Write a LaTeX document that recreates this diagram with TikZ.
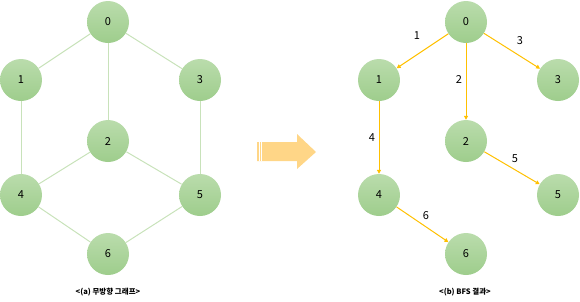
\documentclass[tikz,border=0pt]{standalone}
\usepackage{fontspec}
\setmainfont{Noto Sans CJK KR}
\usepackage{tikz}
\usetikzlibrary{arrows.meta}
\definecolor{vtxtop}{RGB}{186,220,172}
\definecolor{vtxbot}{RGB}{158,205,140}
\definecolor{edgegreen}{RGB}{200,226,186}
\definecolor{treeedge}{RGB}{255,192,0}
\definecolor{bigarrow}{RGB}{255,214,135}
\tikzset{
  vtx/.style    ={circle, minimum size=42pt, inner sep=0pt, top color=vtxtop, bottom color=vtxbot, font=\fontsize{11}{13}\selectfont},
  plain/.style  ={draw=edgegreen, line width=1pt},
  tree/.style   ={draw=treeedge, line width=1pt, -{Triangle[length=4pt, width=4pt]}},
  lbl/.style    ={font=\fontsize{11}{13}\selectfont, inner sep=1pt},
  capt/.style   ={font=\fontsize{7.5}{9}\selectfont\bfseries, inner sep=1pt}
}

\begin{document}
\begin{tikzpicture}[x=1pt, y=-1pt]
  \useasboundingbox (0,0) rectangle (580,301);
  % (a) undirected graph
  \node[vtx] (a0) at (108,22)  {0};
  \node[vtx] (a1) at (21,80)   {1};
  \node[vtx] (a3) at (200,80)  {3};
  \node[vtx] (a2) at (108,141) {2};
  \node[vtx] (a4) at (21,195)  {4};
  \node[vtx] (a5) at (200,195) {5};
  \node[vtx] (a6) at (108,254) {6};
  \draw[plain] (a0) -- (a1);
  \draw[plain] (a0) -- (a3);
  \draw[plain] (a0) -- (a2);
  \draw[plain] (a1) -- (a4);
  \draw[plain] (a3) -- (a5);
  \draw[plain] (a2) -- (a4);
  \draw[plain] (a2) -- (a5);
  \draw[plain] (a4) -- (a6);
  \draw[plain] (a5) -- (a6);
  \node[capt] (capa) at (108,292) {<(a) 무방향 그래프>};

  % block arrow
  \fill[bigarrow] (257,142) -- (297,142) -- (297,134) -- (316,152) -- (297,169) -- (297,161) -- (257,161) -- cycle;
  \draw[white, line width=0.5pt] (259,142) -- (259,161);
  \draw[white, line width=0.5pt] (261,142) -- (261,161);

  % (b) BFS result
  \node[vtx] (b0) at (466,22)  {0};
  \node[vtx] (b1) at (379,80)  {1};
  \node[vtx] (b3) at (558,80)  {3};
  \node[vtx] (b2) at (466,141) {2};
  \node[vtx] (b4) at (379,195) {4};
  \node[vtx] (b5) at (558,195) {5};
  \node[vtx] (b6) at (466,254) {6};
  \draw[tree] (b0) -- (b1);
  \draw[tree] (b0) -- (b2);
  \draw[tree] (b0) -- (b3);
  \draw[tree] (b1) -- (b4);
  \draw[tree] (b2) -- (b5);
  \draw[tree] (b4) -- (b6);
  \node[lbl] (l1) at (417,36)  {1};
  \node[lbl] (l2) at (459,80)  {2};
  \node[lbl] (l3) at (520,41)  {3};
  \node[lbl] (l4) at (372,138) {4};
  \node[lbl] (l5) at (515,159) {5};
  \node[lbl] (l6) at (426,216) {6};
  \node[capt] (capb) at (465,292) {<(b) BFS 결과>};
\end{tikzpicture}
\end{document}
